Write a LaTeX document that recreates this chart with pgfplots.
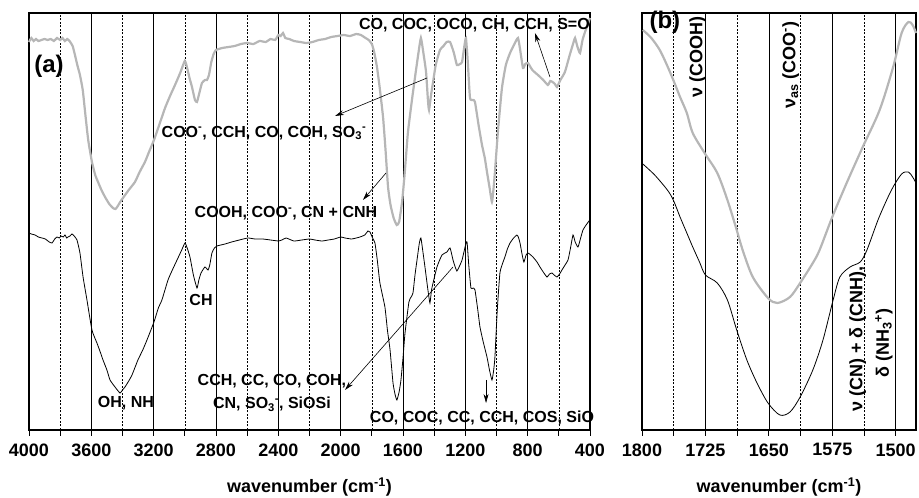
\documentclass[border=0pt]{standalone}
\usepackage{pgfplots}
\pgfplotsset{compat=1.18}
\usepackage{fontspec}
\setmainfont{Liberation Sans}
\usetikzlibrary{arrows.meta}
\definecolor{lgray}{RGB}{182,182,182}
\newcommand\ssub[2]{\textsubscript{#1}\textsuperscript{#2}}

\pgfplotstableread{
wn y
4000 388
3985 392
3970 389
3955 391
3940 389
3920 390
3900 391
3880 390
3860 391
3840 389
3820 392
3800 390
3785 392
3770 389
3755 391
3740 389
3720 384
3705 375
3690 365
3673 355
3655 340
3640 318
3620 290
3596 268
3575 255
3557 248
3535 240
3512 233
3485 226
3461 222
3445 221
3430 224
3415 228
3397 232
3360 240
3320 248
3290 258
3256 268
3230 278
3198 290
3160 307
3127 322
3095 334
3063 345
3030 357
3000 369
2985 362
2970 352
2954 343
2935 330
2922 328
2910 335
2890 347
2870 350
2858 350
2845 355
2830 368
2815 376
2800 380
2760 382
2720 383
2680 384
2640 386
2600 387
2560 386
2520 389
2480 388
2450 391
2420 390
2400 395
2385 394
2370 397
2355 392
2330 391
2300 389
2260 388
2220 387
2180 388
2140 390
2100 391
2060 393
2020 394
1980 395
1940 394
1900 396
1870 395
1840 392
1820 390
1800 386
1785 378
1767 363
1750 343
1728 313
1712 280
1696 243
1680 225
1660 212
1640 205
1625 208
1606 228
1590 255
1568 298
1540 333
1520 356
1500 378
1485 392
1470 378
1452 358
1440 330
1433 320
1420 335
1407 348
1390 365
1363 380
1340 384
1320 388
1298 388
1275 378
1254 365
1235 366
1221 368
1205 385
1196 392
1185 370
1170 332
1150 330
1138 328
1115 305
1093 285
1075 272
1061 258
1045 243
1029 228
1018 243
1010 258
990 300
965 342
940 365
913 377
885 386
862 392
848 380
830 362
815 366
798 367
770 360
734 355
700 350
670 345
655 349
640 348
625 346
612 343
590 350
561 358
530 375
505 388
496 392
480 383
464 377
448 390
432 398
415 405
400 412
}\grayA

\pgfplotstableread{
wn y
4000 197
3985 196
3961 195
3940 193
3917 192
3895 191
3870 188
3852 187
3835 191
3820 193
3805 192
3795 194
3780 193
3769 195
3758 192
3750 193
3737 194
3724 196
3710 194
3692 190
3673 177
3653 153
3628 130
3596 100
3564 87
3545 79
3525 70
3500 60
3480 50
3448 43
3416 37
3400 40
3384 43
3360 49
3339 55
3301 70
3270 80
3243 90
3198 108
3170 122
3147 130
3108 150
3080 160
3050 170
3020 180
2999 187
2985 182
2967 173
2945 155
2922 142
2910 150
2896 157
2871 163
2851 160
2840 165
2826 177
2810 182
2794 184
2742 186
2700 188
2650 190
2595 192
2550 191
2500 191
2450 190
2400 189
2377 190
2350 192
2300 189
2250 190
2200 191
2165 190
2120 189
2080 190
2040 191
2000 193
1972 192
1930 191
1900 192
1876 193
1845 195
1825 199
1812 198
1795 192
1780 187
1765 170
1748 147
1716 123
1700 100
1683 80
1664 47
1650 35
1639 30
1625 38
1613 50
1600 72
1587 97
1562 128
1548 133
1536 137
1523 155
1510 170
1495 187
1485 192
1472 178
1459 163
1440 140
1427 127
1417 140
1407 147
1382 163
1350 175
1318 178
1298 182
1279 170
1265 163
1254 159
1240 163
1221 170
1200 184
1189 188
1178 165
1164 142
1150 142
1138 140
1120 120
1106 103
1085 88
1061 73
1045 60
1029 50
1018 60
1010 73
995 120
978 157
960 167
946 173
930 181
913 187
890 192
869 195
860 193
849 187
835 175
824 168
810 175
798 177
780 175
766 173
740 168
721 163
700 158
676 153
660 156
644 157
630 155
612 153
595 156
580 160
560 165
541 170
525 182
509 195
495 188
477 183
460 192
445 200
425 205
406 209
400 210
}\blackA

\pgfplotstableread{
wn y
1799 400
1789 392
1779 380
1770 364
1763 350
1755 333
1747 317
1740 297
1726 277
1711 257
1699 230
1688 200
1681 180
1669 153
1651 132
1640 127
1625 133
1613 147
1598 167
1590 180
1575 213
1558 247
1539 283
1519 320
1503 363
1493 397
1485 408
1480 405
1476 397
}\grayB

\pgfplotstableread{
wn y
1799 266
1785 255
1770 240
1763 230
1755 213
1747 197
1740 183
1732 168
1725 155
1711 147
1699 130
1688 100
1676 70
1664 47
1651 27
1637 15
1625 18
1613 33
1598 60
1586 90
1574 130
1566 153
1554 163
1542 168
1534 180
1520 212
1505 240
1493 256
1485 258
1480 253
1476 247
}\blackB

\pgfplotsset{
  myax/.style={
    scale only axis, anchor=south west, x dir=reverse, clip=false,
    ymin=0, ymax=417, ytick=\empty,
    axis line style={line width=1.2pt},
    xmajorgrids, xminorgrids,
    major grid style={black, line width=0.6pt},
    minor grid style={black, line width=0.5pt, dash pattern=on 2pt off 1.5pt},
    tick align=outside, xtick pos=left,
    major tick length=6pt, minor tick length=6pt,
    every tick/.style={black, line width=0.8pt},
    ticklabel style={font=\bfseries\fontsize{18}{18}\selectfont},
    xticklabel style={yshift=-4pt},
    /pgf/number format/assume math mode=true,
    /pgf/number format/1000 sep={},
    xlabel style={font=\bfseries\fontsize{18}{18}\selectfont, at={(axis description cs:0.5,0)}, anchor=center, yshift=-57pt},
    xlabel={wavenumber (cm\textsuperscript{-1})},
  },
}
\tikzset{
  ann/.style={font=\bfseries\fontsize{16}{23}\selectfont, inner sep=0pt},
  annr/.style={font=\bfseries\fontsize{18}{20}\selectfont, inner sep=0pt, rotate=90},
  arr/.style={-{Stealth[length=9pt,width=5pt]}, line width=0.6pt, black},
}

\begin{document}
\begin{tikzpicture}[x=1pt,y=1pt]
\path[use as bounding box] (0,0) rectangle (919,498);
\begin{axis}[myax, at={(29pt,68pt)}, width=561pt, height=417pt,
  xmin=400, xmax=4000, xtick={400,800,...,4000}, minor xtick={600,1000,...,3800}]
\addplot[lgray, line width=2.2pt, smooth, tension=0.3] table[x=wn,y=y] {\grayA};
\addplot[black, line width=0.8pt, smooth, tension=0.3] table[x=wn,y=y] {\blackA};
\node[font=\bfseries\fontsize{24}{24}\selectfont, inner sep=0pt] at (axis cs:3872,364) {(a)};
\node[ann, anchor=east] at (axis cs:400,405) {CO, COC, OCO, CH, CCH, S=O};
\draw[arr] (axis cs:657,353) -- (axis cs:753,397);
\node[ann] at (axis cs:2492,297) {COO\textsuperscript{-}, CCH, CO, COH, SO\ssub{3}{-}};
\draw[arr] (axis cs:1446,352) -- (axis cs:2036,314);
\node[ann] at (axis cs:2351,217) {COOH, COO\textsuperscript{-}, CN + CNH};
\draw[arr] (axis cs:1709,257) -- (axis cs:1857,230);
\node[ann] at (axis cs:2896,130) {CH};
\node[ann] at (axis cs:3378,27) {OH, NH};
\node[ann, align=center] at (axis cs:2441,37) {CCH, CC, CO, COH,\\CN, SO\ssub{3}{-}, SiOSi};
\draw[arr] (axis cs:1279,163) -- (axis cs:1972,40);
\node[ann] at (axis cs:1093,12) {CO, COC, CC, CCH, COS, SiO};
\draw[arr] (axis cs:1067,50) -- (axis cs:1067,27);
\end{axis}
\begin{axis}[myax, at={(642pt,68pt)}, width=274pt, height=417pt,
  xmin=1476, xmax=1800, xtick={1500,1575,1650,1725,1800},
  minor xtick={1537.5,1612.5,1687.5,1762.5}]
\addplot[lgray, line width=2.2pt, smooth, tension=0.5] table[x=wn,y=y] {\grayB};
\addplot[black, line width=0.8pt, smooth, tension=0.5] table[x=wn,y=y] {\blackB};
\node[font=\bfseries\fontsize{24}{24}\selectfont, inner sep=0pt] at (axis cs:1773,408) {(b)};
\node[annr] at (axis cs:1734,373) {ν (COOH)};
\node[annr] at (axis cs:1624,365) {ν\textsubscript{as} (COO\textsuperscript{-})};
\node[annr] at (axis cs:1545,91) {ν (CN) + δ (CNH),};
\node[annr] at (axis cs:1514,87) {δ (NH\ssub{3}{+})};
\end{axis}
\end{tikzpicture}
\end{document}
